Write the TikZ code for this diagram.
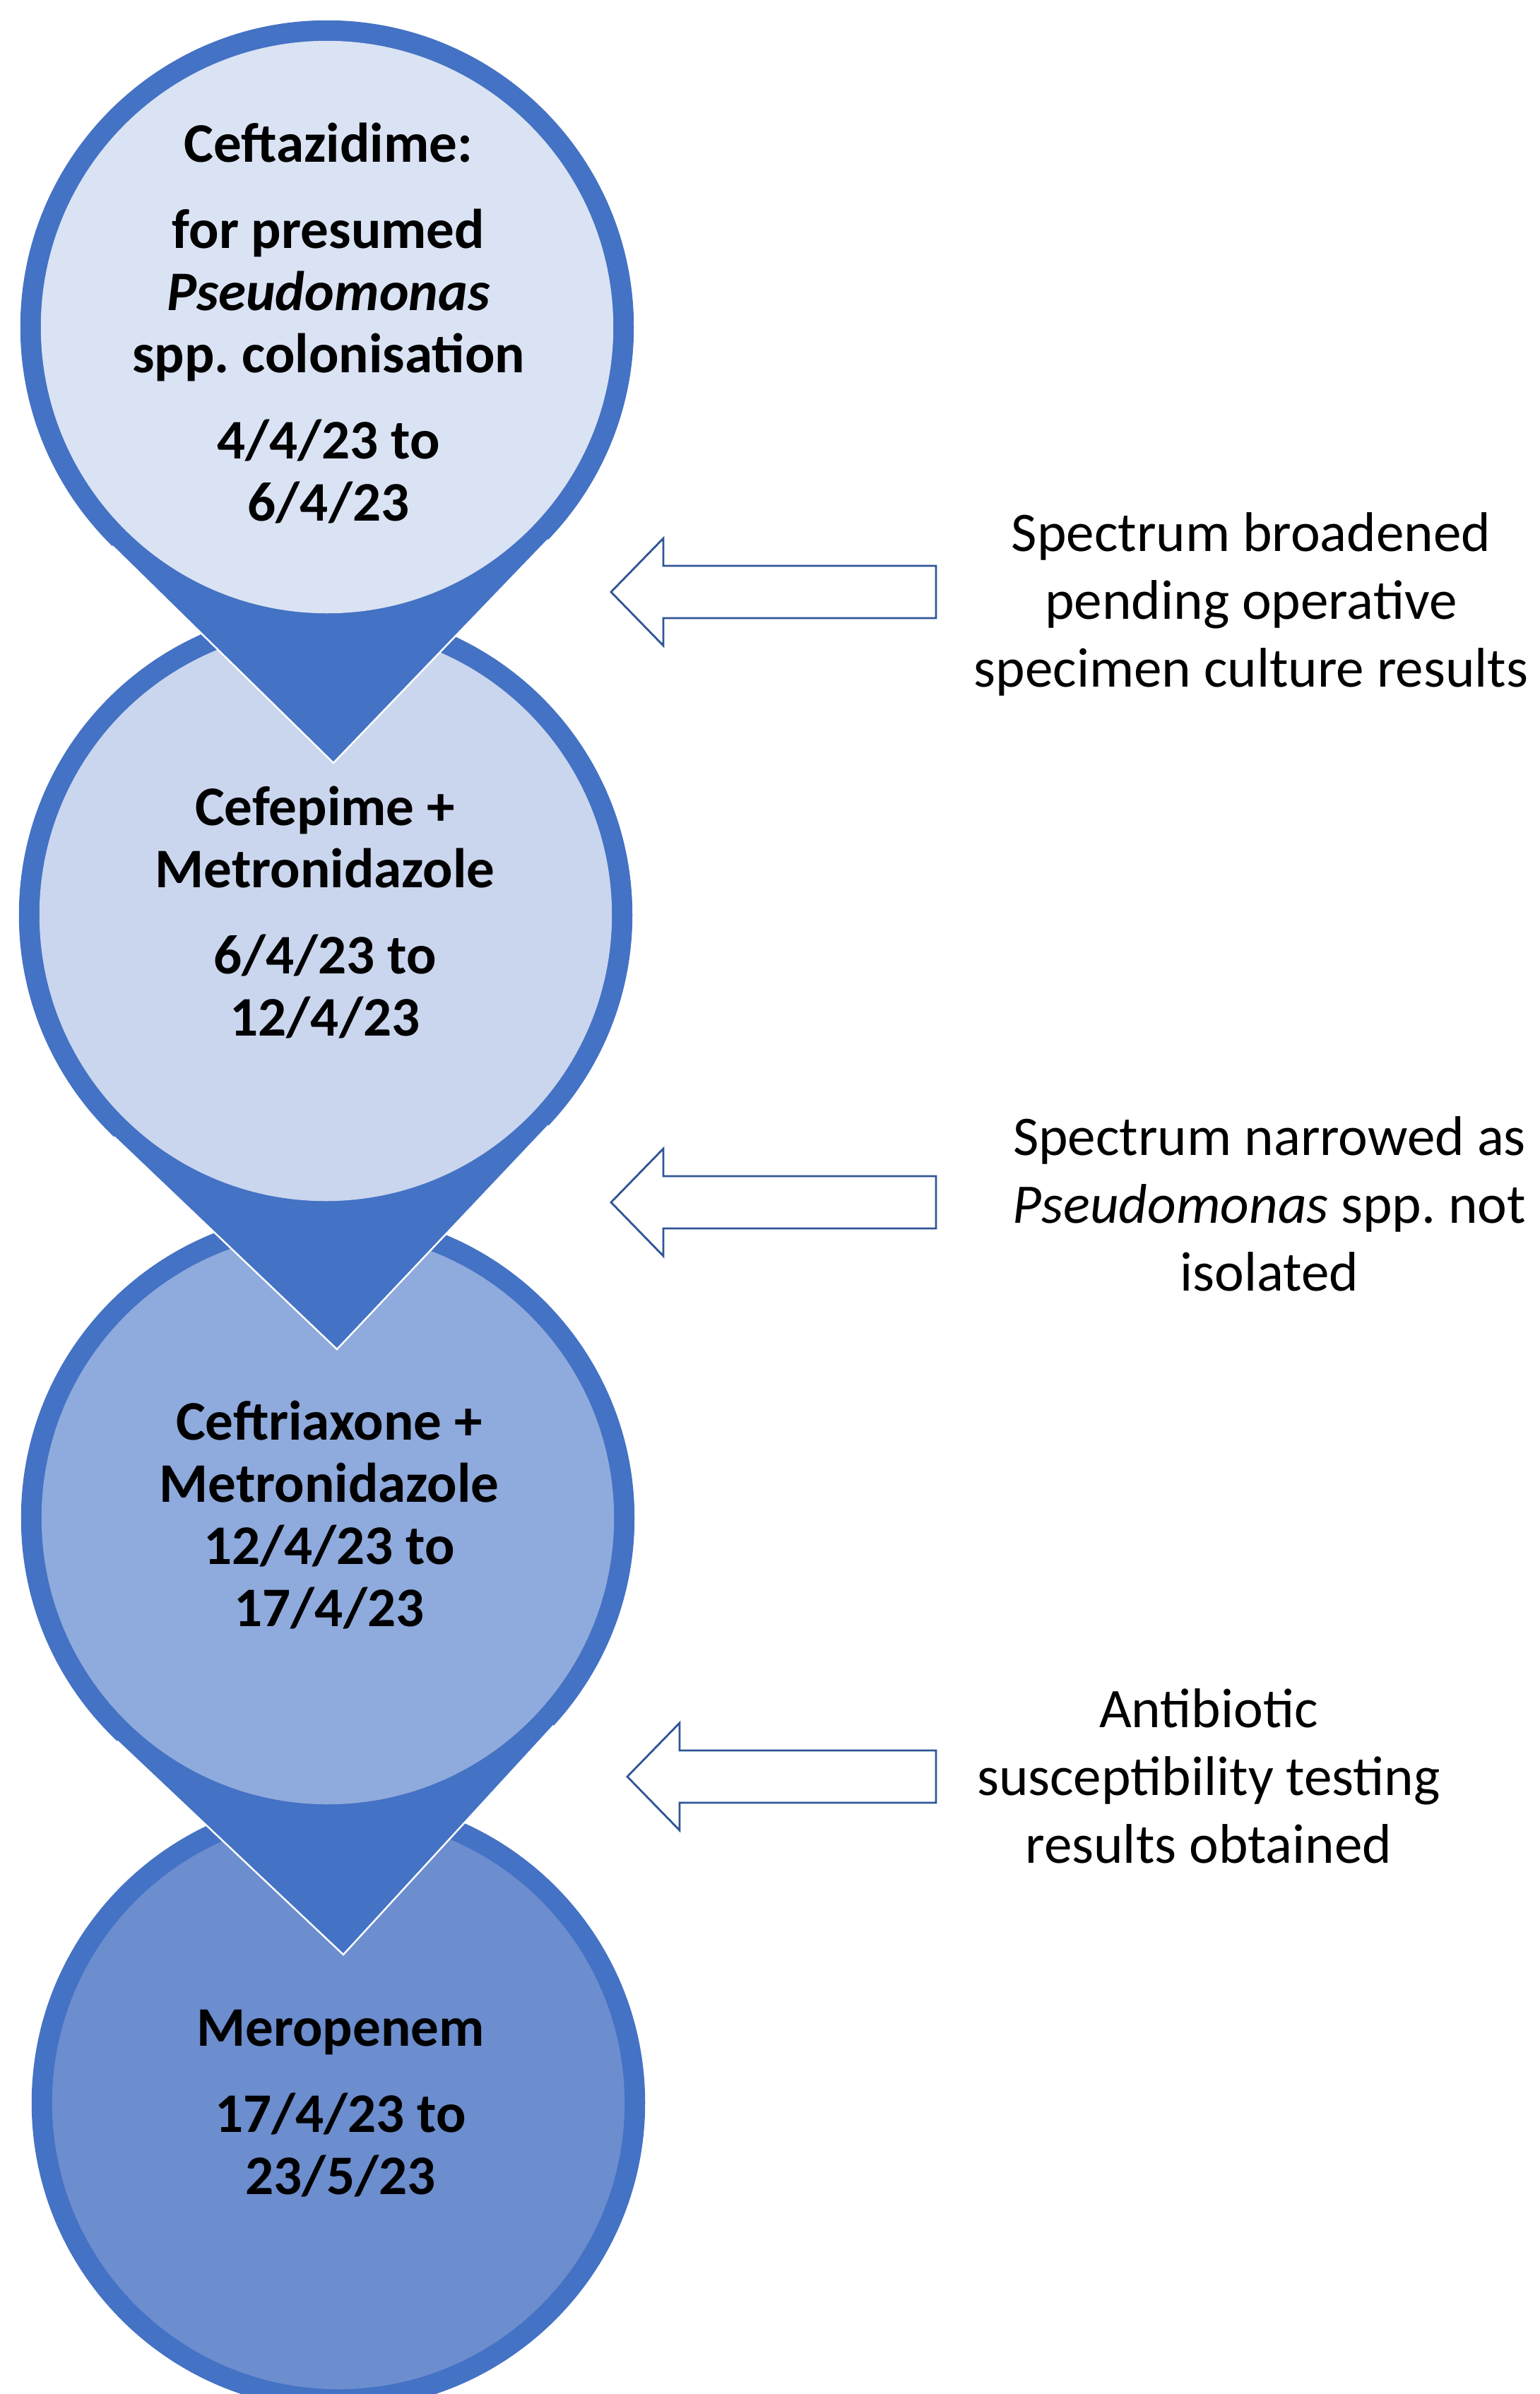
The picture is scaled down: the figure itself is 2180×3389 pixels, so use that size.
\documentclass[tikz,border=0pt]{standalone}
\usepackage{fontspec}
\setmainfont{Carlito}
\frenchspacing
\usetikzlibrary{calc}

\definecolor{pinblue}{HTML}{4472C4}
\definecolor{arrowblue}{HTML}{2F5597}
\definecolor{fillA}{HTML}{DAE3F3}
\definecolor{fillB}{HTML}{CAD6EE}
\definecolor{fillC}{HTML}{8FAADC}
\definecolor{fillD}{HTML}{6C8DCE}

% pin below a ring node: #1 ring name, #2 tip coordinate
\newcommand{\droppin}[2]{%
  \fill[pinblue] (#2) -- (tangent cs:node=#1,point={(#2)},solution=1) -- (#1.center)
    -- (tangent cs:node=#1,point={(#2)},solution=2) -- cycle;
  \draw[white, line width=0.7pt] (tangent cs:node=#1,point={(#2)},solution=1) -- (#2)
    -- (tangent cs:node=#1,point={(#2)},solution=2);}

% hollow arrow pointing left: #1 tip x, #2 middle y
\newcommand{\leftblock}[2]{%
  \draw[hollow] (#1,#2) -- ++(74,-76) -- ++(0,39) -- (1325,{#2-37}) -- ++(0,74)
    -- ({#1+74},{#2+37}) -- ++(0,39) -- cycle;}

\begin{document}
\begin{tikzpicture}[x=0.01cm, y=-0.01cm,
    ring/.style={circle, fill=pinblue, minimum size=8.68cm, inner sep=0pt, outer sep=0pt},
    disc/.style={circle, minimum size=8.10cm, inner sep=0pt, outer sep=0pt},
    drug/.style={align=center, anchor=base, font=\bfseries\fontsize{22.5}{25}\selectfont},
    note/.style={align=center, anchor=base, font=\fontsize{22.5}{27.3}\selectfont},
    hollow/.style={draw=arrowblue, line width=0.8pt, fill=white}]

    \useasboundingbox (0,0) rectangle (2180,3389);

    % Last step first, so every pin lies over the circle below it
    \node[ring] (r4) at (479,2977) {};
    \node[disc, fill=fillD] (d4) at (r4) {};

    % Step 3
    \node[ring] (r3) at (464,2149) {};
    \coordinate (tip3) at (486,2767);
    \droppin{r3}{tip3}
    \node[disc, fill=fillC] (d3) at (r3) {};

    % Step 2
    \node[ring] (r2) at (461,1295) {};
    \coordinate (tip2) at (477,1910);
    \droppin{r2}{tip2}
    \node[disc, fill=fillB] (d2) at (r2) {};

    % Step 1
    \node[ring] (r1) at (463,463) {};
    \coordinate (tip1) at (472,1080);
    \droppin{r1}{tip1}
    \node[disc, fill=fillA] (d1) at (r1) {};

    % Drug names and dates (base = last line)
    \node[drug] (m1) at (465,737) {Ceftazidime:\\[0.34cm] for presumed\\ \textit{Pseudomonas}\\ spp. colonisation\\[0.34cm] 4/4/23 to\\ 6/4/23};
    \node[drug] (m2) at (460,1466) {Cefepime +\\ Metronidazole\\[0.34cm] 6/4/23 to\\ 12/4/23};
    \node[drug] (m3) at (466,2302) {Ceftriaxone +\\ Metronidazole\\ 12/4/23 to\\ 17/4/23};
    \node[drug] (m4) at (482,3106) {Meropenem\\[0.34cm] 17/4/23 to\\ 23/5/23};

    % Reasons for each change
    \leftblock{865}{838}
    \leftblock{865}{1702}
    \leftblock{888}{2515}
    \node[note] (n1) at (1771,972) {Spectrum broadened\\ pending operative\\ specimen culture results};
    \node[note] (n2) at (1797,1827) {Spectrum narrowed as\\ \textit{Pseudomonas} spp. not\\ isolated};
    \node[note] (n3) at (1711,2637) {Antibiotic\\ susceptibility testing\\ results obtained};
\end{tikzpicture}
\end{document}
